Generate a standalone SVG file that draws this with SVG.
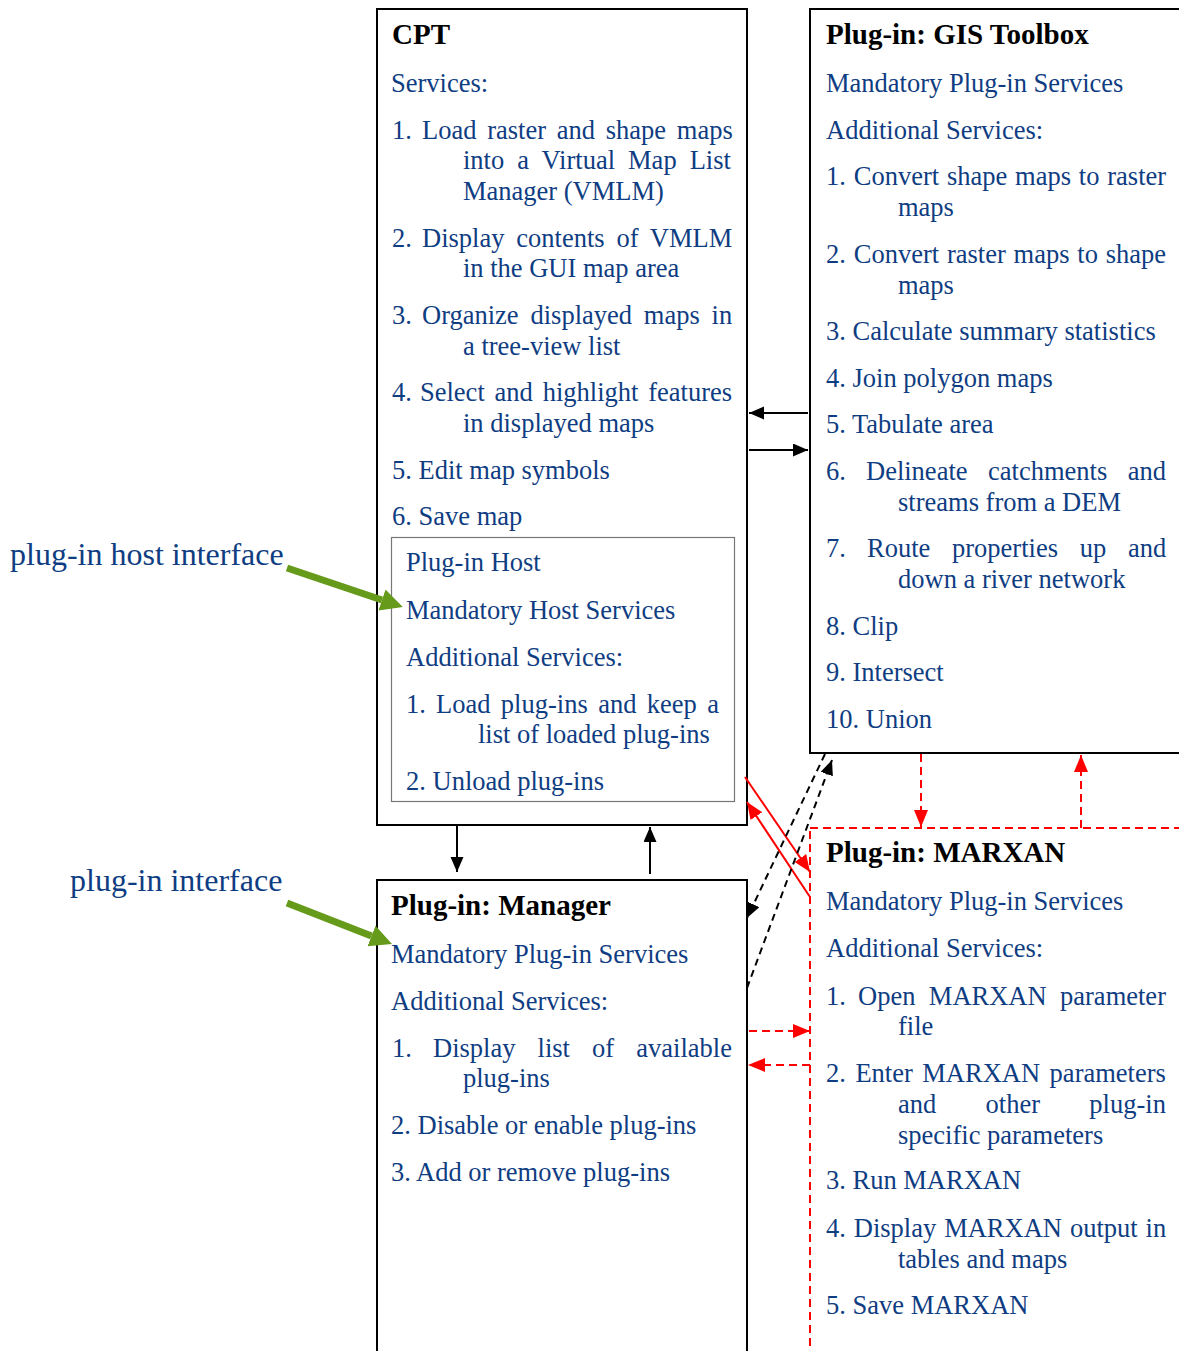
<svg xmlns="http://www.w3.org/2000/svg" width="1179" height="1351" viewBox="0 0 1179 1351">
<style>
.t{font-family:"Liberation Serif","Times New Roman",serif;font-size:26.5px;fill:#0f3d82}
.h{font-family:"Liberation Serif","Times New Roman",serif;font-size:29px;font-weight:bold;fill:#000}
.lbl{font-family:"Liberation Serif","Times New Roman",serif;font-size:32px;fill:#0f3d82}
.box{fill:#fff;stroke:#000;stroke-width:2}
.inner{fill:none;stroke:#777;stroke-width:1.2}
.red{fill:none;stroke:#f00;stroke-width:2;stroke-dasharray:8,5}
.c{stroke:#000;stroke-width:2;fill:none}
.cd{stroke:#000;stroke-width:2;fill:none;stroke-dasharray:7,5}
.cr{stroke:#f00;stroke-width:2;fill:none}
.crd{stroke:#f00;stroke-width:2;fill:none;stroke-dasharray:8,5}
.g{stroke:#669a1a;stroke-width:7;fill:none}
</style>
<defs>
<marker id="ab" markerUnits="userSpaceOnUse" markerWidth="16" markerHeight="14" refX="15" refY="6.5" orient="auto"><path d="M0,0 L15,6.5 L0,13 z" fill="#000"/></marker>
<marker id="ar" markerUnits="userSpaceOnUse" markerWidth="18" markerHeight="15" refX="17" refY="7" orient="auto"><path d="M0,0 L17,7 L0,14 z" fill="#f00"/></marker>
<marker id="ag" markerUnits="userSpaceOnUse" markerWidth="23" markerHeight="23" refX="0" refY="11" orient="auto"><path d="M0,0 L22,11 L0,22 z" fill="#669a1a"/></marker>
</defs>

<g id="cpt">
<rect class="box" x="377" y="9" width="370" height="816"/>
<text class="h" x="392" y="44">CPT</text>
<text class="t" x="391" y="92">Services:</text>
<text class="t" x="392" y="139">1.</text>
<text class="t" x="422" y="139" word-spacing="4.1">Load raster and shape maps</text>
<text class="t" x="463" y="169" word-spacing="6.4">into a Virtual Map List</text>
<text class="t" x="463" y="200">Manager (VMLM)</text>
<text class="t" x="392" y="247">2.</text>
<text class="t" x="422" y="247" word-spacing="5.2">Display contents of VMLM</text>
<text class="t" x="463" y="277">in the GUI map area</text>
<text class="t" x="392" y="324">3.</text>
<text class="t" x="422" y="324" word-spacing="5.2">Organize displayed maps in</text>
<text class="t" x="463" y="355">a tree-view list</text>
<text class="t" x="392" y="401">4.</text>
<text class="t" x="420" y="401" word-spacing="3.2">Select and highlight features</text>
<text class="t" x="463" y="432">in displayed maps</text>
<text class="t" x="392" y="479">5. Edit map symbols</text>
<text class="t" x="392" y="525">6. Save map</text>
</g>

<g id="plugin-host">
<rect class="inner" x="391.5" y="537.5" width="343" height="264"/>
<text class="t" x="406" y="571">Plug-in Host</text>
<text class="t" x="406" y="619">Mandatory Host Services</text>
<text class="t" x="406" y="666">Additional Services:</text>
<text class="t" x="406" y="713">1.</text>
<text class="t" x="436" y="713" word-spacing="3.8">Load plug-ins and keep a</text>
<text class="t" x="478" y="743">list of loaded plug-ins</text>
<text class="t" x="406" y="790">2. Unload plug-ins</text>
</g>

<g id="gis-toolbox">
<rect class="box" x="810" y="9" width="400" height="744"/>
<text class="h" x="826" y="44">Plug-in: GIS Toolbox</text>
<text class="t" x="826" y="92">Mandatory Plug-in Services</text>
<text class="t" x="826" y="139">Additional Services:</text>
<text class="t" x="826" y="185" word-spacing="1.2">1. Convert shape maps to raster</text>
<text class="t" x="898" y="216">maps</text>
<text class="t" x="826" y="263" word-spacing="1.2">2. Convert raster maps to shape</text>
<text class="t" x="898" y="294">maps</text>
<text class="t" x="826" y="340">3. Calculate summary statistics</text>
<text class="t" x="826" y="387">4. Join polygon maps</text>
<text class="t" x="826" y="433">5. Tabulate area</text>
<text class="t" x="826" y="480">6.</text>
<text class="t" x="866" y="480" word-spacing="13.9">Delineate catchments and</text>
<text class="t" x="898" y="511">streams from a DEM</text>
<text class="t" x="826" y="557">7.</text>
<text class="t" x="867" y="557" word-spacing="15.1">Route properties up and</text>
<text class="t" x="898" y="588">down a river network</text>
<text class="t" x="826" y="635">8. Clip</text>
<text class="t" x="826" y="681">9. Intersect</text>
<text class="t" x="826" y="728">10. Union</text>
</g>

<g id="manager">
<rect class="box" x="377" y="880" width="370" height="500"/>
<text class="h" x="391" y="915">Plug-in: Manager</text>
<text class="t" x="391" y="963">Mandatory Plug-in Services</text>
<text class="t" x="391" y="1010">Additional Services:</text>
<text class="t" x="392" y="1057">1.</text>
<text class="t" x="433" y="1057" word-spacing="15.5">Display list of available</text>
<text class="t" x="463" y="1087">plug-ins</text>
<text class="t" x="391" y="1134">2. Disable or enable plug-ins</text>
<text class="t" x="391" y="1181">3. Add or remove plug-ins</text>
</g>

<g id="marxan">
<rect class="red" x="810" y="828" width="400" height="600"/>
<text class="h" x="826" y="862">Plug-in: MARXAN</text>
<text class="t" x="826" y="910">Mandatory Plug-in Services</text>
<text class="t" x="826" y="957">Additional Services:</text>
<text class="t" x="826" y="1005">1.</text>
<text class="t" x="858" y="1005" word-spacing="6.8">Open MARXAN parameter</text>
<text class="t" x="898" y="1035">file</text>
<text class="t" x="826" y="1082" word-spacing="2.9">2. Enter MARXAN parameters</text>
<text class="t" x="898" y="1113" word-spacing="42.7">and other plug-in</text>
<text class="t" x="898" y="1144">specific parameters</text>
<text class="t" x="826" y="1189">3. Run MARXAN</text>
<text class="t" x="826" y="1237" word-spacing="1.3">4. Display MARXAN output in</text>
<text class="t" x="898" y="1268">tables and maps</text>
<text class="t" x="826" y="1314">5. Save MARXAN</text>
</g>

<g id="label-host-interface">
<text class="lbl" x="10" y="565">plug-in host interface</text>
</g>
<g id="label-plugin-interface">
<text class="lbl" x="70" y="891">plug-in interface</text>
</g>

<g id="connectors">
<line class="c" x1="808" y1="413" x2="749" y2="413" marker-end="url(#ab)"/>
<line class="c" x1="749" y1="450" x2="808" y2="450" marker-end="url(#ab)"/>
<line class="c" x1="457" y1="826" x2="457" y2="872" marker-end="url(#ab)"/>
<line class="c" x1="650" y1="874" x2="650" y2="827" marker-end="url(#ab)"/>
<line class="cr" x1="745" y1="777" x2="810" y2="872" marker-end="url(#ar)"/>
<line class="cr" x1="810" y1="897" x2="747" y2="802" marker-end="url(#ar)"/>
<line class="cd" x1="747" y1="988" x2="832" y2="760" marker-end="url(#ab)"/>
<line class="cd" x1="825" y1="754" x2="747" y2="918" marker-end="url(#ab)"/>
<line class="crd" x1="921" y1="754" x2="921" y2="827" marker-end="url(#ar)"/>
<line class="crd" x1="1081" y1="828" x2="1081" y2="755" marker-end="url(#ar)"/>
<line class="crd" x1="749" y1="1031" x2="810" y2="1031" marker-end="url(#ar)"/>
<line class="crd" x1="810" y1="1065" x2="748" y2="1065" marker-end="url(#ar)"/>
<line class="g" x1="287" y1="568" x2="382" y2="600" marker-end="url(#ag)"/>
<line class="g" x1="287" y1="903" x2="371.5" y2="936" marker-end="url(#ag)"/>
</g>
</svg>
